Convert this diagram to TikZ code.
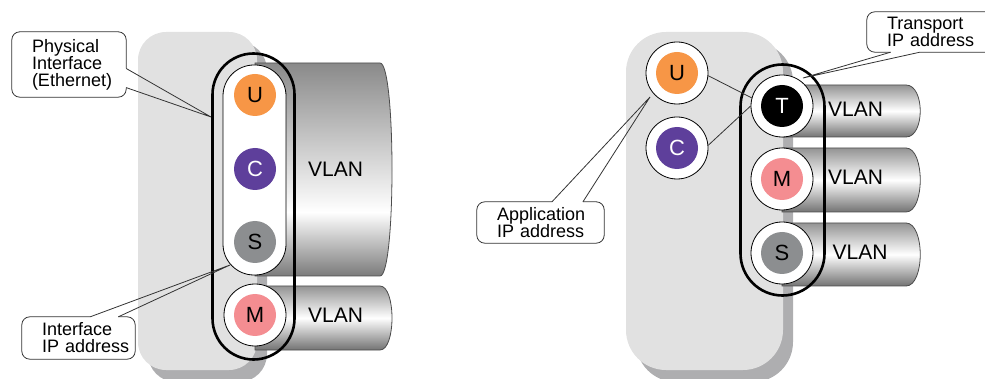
\documentclass[tikz,border=0pt]{standalone}
\usepackage{fontspec}
\setmainfont{Liberation Sans}
\definecolor{uorange}{HTML}{F79646}
\definecolor{cpurple}{HTML}{5E3F9B}
\definecolor{sgrey}{HTML}{8C8E90}
\definecolor{mpink}{HTML}{F48D91}
\definecolor{bodygrey}{HTML}{E1E1E1}
\definecolor{shadowgrey}{HTML}{AEAEB0}
\pgfdeclareverticalshading{vlanbig}{100bp}{color(0bp)=(black!52); color(25bp)=(black!52); color(40bp)=(white); color(75bp)=(black!46); color(100bp)=(black!46)}
\pgfdeclareverticalshading{vlansmall}{100bp}{color(0bp)=(black!55); color(25bp)=(black!55); color(50bp)=(white); color(75bp)=(black!42); color(100bp)=(black!42)}

\begin{document}
\begin{tikzpicture}[x=1pt, y=-1pt,
	dot/.style={circle, draw=none, fill=#1, minimum size=42pt, inner sep=0, font=\fontsize{22}{22}\selectfont},
	ring/.style={circle, draw, line width=0.8pt, fill=white, minimum size=62pt, inner sep=0, font=\fontsize{22}{22}\selectfont,
		path picture={\fill[#1] (path picture bounding box.center) circle (21pt);}},
	port/.style={draw, line width=0.8pt, fill=white, rounded corners=31pt, minimum width=63pt, minimum height=210pt, inner sep=0},
	eth/.style={draw, line width=2.6pt, rounded corners=41pt, inner sep=0},
	pipe/.style={draw=black!70, line width=0.8pt, shade, shading=#1},
	vlan/.style={font=\fontsize{21}{21}\selectfont, inner sep=0},
	note/.style={align=left, inner sep=0, font=\fontsize{18}{17}\selectfont},
	notebox/.style={draw=black!80, line width=0.8pt, rounded corners=8pt},
	pointer/.style={draw=black!80, line width=0.8pt}]

	\useasboundingbox (0,0) rectangle (985,379);

	% devices
	\fill[shadowgrey, rounded corners=28pt] (148,42) rectangle (267,382);
	\fill[bodygrey, rounded corners=28pt] (138,32) rectangle (257,370);
	\fill[shadowgrey, rounded corners=40pt] (636,42) rectangle (793,382);
	\fill[bodygrey, rounded corners=40pt] (626,32) rectangle (783,370);

	\begin{scope}
	\path[pipe=vlanbig] (255,63) -- (380,63) .. controls (396,63) and (396,276) .. (380,276) -- (255,276) -- cycle;
	\path[pipe=vlansmall] (255,286) -- (380,286) .. controls (396,286) and (396,350) .. (380,350) -- (255,350) -- cycle;
	\node [port] (port1) at (254.5,170) {};
	\node [dot=uorange] (u1) at (255,95) {U};
	\node [dot=cpurple, text=white] (c1) at (255,169) {C};
	\node [dot=sgrey] (s1) at (255,242) {S};
	\node [ring=mpink] (m1) at (255,315) {M};
	\node [eth, minimum width=82pt, minimum height=306pt] (eth1) at (253.5,206.5) {};
	\node [vlan] (vlan1) at (335.5,169) {VLAN};
	\node [vlan] (vlan2) at (335.5,315) {VLAN};
	\end{scope}

	\begin{scope}
	\foreach \ya/\yb in {85/137, 148/212, 223/286}
		\path[pipe=vlansmall] (782,\ya) -- (906,\ya) .. controls (925,\ya) and (925,\yb) .. (906,\yb) -- (782,\yb) -- cycle;
	\node [ring=uorange] (u2) at (677,73) {U};
	\node [ring=cpurple, text=white] (c2) at (677,148) {C};
	\node [ring=black, text=white] (t2) at (782,106) {T};
	\node [ring=mpink] (m2) at (782,179) {M};
	\node [ring=sgrey] (s2) at (782,253) {S};
	\node [eth, minimum width=84pt, minimum height=231pt, rounded corners=42pt] (eth2) at (782.5,180) {};
	\node [vlan] (vlan3) at (855.5,109) {VLAN};
	\node [vlan] (vlan4) at (855.5,177.5) {VLAN};
	\node [vlan] (vlan5) at (860,252) {VLAN};
	\draw [pointer] (u2.-5) -- (t2.165);
	\draw [pointer] (c2.5) -- (t2.180);
	\end{scope}

	% callouts
	\node [note, minimum width=114pt, minimum height=65pt, text width=74pt] (phys) at (69,64.5) {Physical\\Interface\\\mbox{(Ethernet)}};
	\coordinate (phystip) at (211,117);
	\draw [notebox] (phys.-4) -- (phys.north east) -- (phys.north west) -- (phys.south west) -- (phys.south east) -- (phys.-22);
	\draw [pointer] (phys.-4) -- (phystip) -- (phys.-22);

	\node [note, minimum width=113pt, minimum height=42pt, text width=73pt] (ifip) at (78.5,338) {Interface\\\mbox{IP address}};
	\coordinate (ifiptip) at (230,265);
	\draw [notebox] (ifip.61) -- (ifip.north west) -- (ifip.south west) -- (ifip.south east) -- (ifip.north east) -- (ifip.28);
	\draw [pointer] (ifip.61) -- (ifiptip) -- (ifip.28);

	\node [note, minimum width=127pt, minimum height=41pt, text width=87pt] (appip) at (540.5,222.5) {\mbox{Application}\\\mbox{IP address}};
	\coordinate (appiptip) at (650,97);
	\draw [notebox] (appip.61) -- (appip.north west) -- (appip.south west) -- (appip.south east) -- (appip.north east) -- (appip.26);
	\draw [pointer] (appip.61) -- (appiptip) -- (appip.26);

	\node [note, minimum width=130pt, minimum height=40pt, text width=90pt] (trip) at (932,32) {Transport\\\mbox{IP address}};
	\coordinate (triptip) at (803,78);
	\draw [notebox] (trip.-154.5) -- (trip.south west) -- (trip.north west) -- (trip.north east) -- (trip.south east) -- (trip.-121);
	\draw [pointer] (trip.-154.5) -- (triptip) -- (trip.-121);
\end{tikzpicture}
\end{document}
